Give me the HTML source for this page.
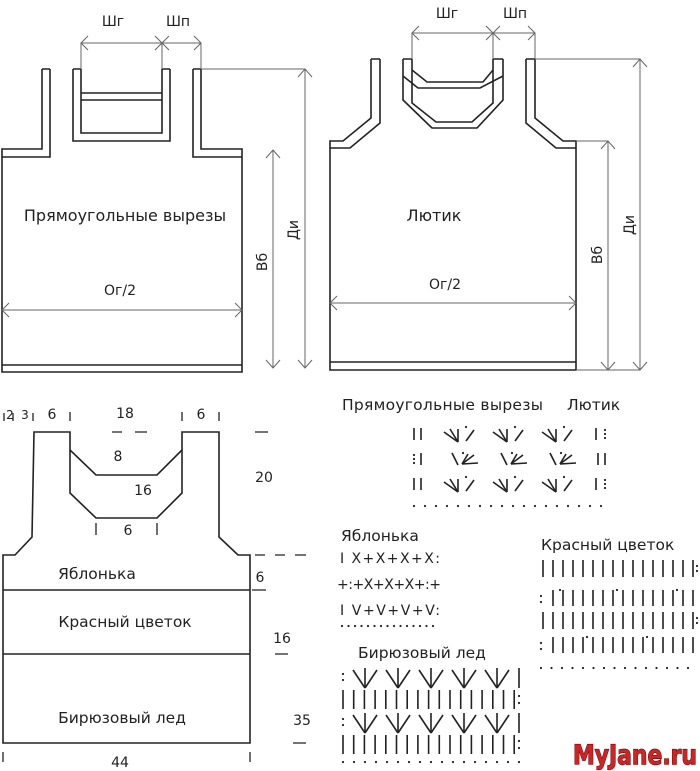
<!DOCTYPE html>
<html><head><meta charset="utf-8"><style>
html,body{margin:0;padding:0;background:#fff;}
svg{display:block;}
text{font-family:"DejaVu Sans","Liberation Sans",sans-serif;fill:#222;}
</style></head><body>
<svg id="s" width="700" height="771" viewBox="0 0 700 771" xmlns="http://www.w3.org/2000/svg">
<g fill="none" stroke="#222" stroke-width="1.6">
<path d="M42,69 H50 M73,69 H81 M162,69 H170 M193,69 H201"/>
<path d="M42,69 V149 H2 V372 H242 V149 H201 V69"/>
<path d="M50,69 V157 H2 M193,69 V157 H242"/>
<path d="M73,69 V141 H170 V69 M81,69 V133 H162 V69"/>
<path d="M81,93 H162 M81,100 H162"/>
<path d="M2,365 H242"/>
<path d="M371,59 H380 M403,59 H412 M493,59 H503 M526,59 H535"/>
<path d="M371,59 V118 L343,141 H330 V370 H576 V141 H563 L535,118 V59"/>
<path d="M380,59 V123 L350,148 H330 M526,59 V123 L556,148 H576"/>
<path d="M403,59 V100 L432,128 H477 L503,100 V59"/>
<path d="M412,59 V103 L436,122 H472 L493,103 V59"/>
<path d="M412,70 L427,82 H483 L493,70"/>
<path d="M403,76 L418,88 H480 L503,76"/>
<path d="M330,362 H576"/>
<path d="M3,555 H15 L32,537 L34,432 H70 V450 L96,475 H157 L182,450 V432 H219 V537 L238,555 H250 V743 H3 Z"/>
<path d="M70,450 V493 L96,518 H157 L182,493 V450"/>
<path d="M3,590 H250 M3,654 H250"/>
</g>
<g fill="none" stroke="#666" stroke-width="1">
<path d="M81,43 H201 M81,43 V69 M162,43 V69 M201,43 V69"/>
<path d="M88,36 L81,43 L88,50 M155,36 L169,50 M169,36 L155,50 M194,36 L201,43 L194,50"/>
<path d="M201,69 H305 M305,69 V368 M298,77 L305,69 L312,77 M298,360 L305,368 L312,360"/>
<path d="M273,150 V368 M266,158 L273,150 L280,158 M266,360 L273,368 L280,360"/>
<path d="M2,310 H242 M9,303 L2,310 L9,317 M235,303 L242,310 L235,317"/>
<path d="M412,33 H535 M412,33 V59 M493,33 V59 M535,33 V59"/>
<path d="M419,26 L412,33 L419,40 M486,26 L500,40 M500,26 L486,40 M528,26 L535,33 L528,40"/>
<path d="M535,59 H640 M640,59 V370 M633,67 L640,59 L647,67 M633,362 L640,370 L647,362"/>
<path d="M576,141 H608 M608,141 V370 M601,149 L608,141 L615,149 M601,362 L608,370 L615,362 M576,370 H640"/>
<path d="M330,303 H576 M337,296 L330,303 L337,310 M569,296 L576,303 L569,310"/>
</g>
<g font-size="14" text-anchor="middle">
<text x="113" y="26">Шг</text><text x="178" y="26">Шп</text>
<text x="125" y="221" font-size="16">Прямоугольные вырезы</text>
<text x="120" y="295">Ог/2</text>
<text transform="translate(267,262) rotate(-90)">Вб</text>
<text transform="translate(298,230) rotate(-90)">Ди</text>
<text x="447" y="18">Шг</text><text x="515" y="18">Шп</text>
<text x="434" y="221" font-size="16">Лютик</text>
<text x="445" y="289">Ог/2</text>
<text transform="translate(602,255) rotate(-90)">Вб</text>
<text transform="translate(634,225) rotate(-90)">Ди</text>
<text x="10" y="419" font-size="12">2</text><text x="25" y="419" font-size="12">3</text>
<text x="52" y="419">6</text><text x="125" y="418">18</text><text x="201" y="419">6</text>
<text x="118" y="461">8</text><text x="143" y="495">16</text><text x="128" y="535">6</text>
<text x="264" y="482">20</text><text x="260" y="582">6</text><text x="282" y="643">16</text>
<text x="302" y="725">35</text><text x="120" y="767">44</text>
<text x="97" y="579" font-size="15.5">Яблонька</text>
<text x="125" y="627" font-size="15.5">Красный цветок</text>
<text x="122" y="723" font-size="15.5">Бирюзовый лед</text>
</g>
<g stroke="#222" stroke-width="1.3">
<path d="M4,413 V421 M13,413 V421 M33,413 V421 M70,412 V421 M182,412 V421 M219,412 V421"/>
<path d="M112,432 H122 M135,432 H147 M255,432 H268"/>
<path d="M255,555 H265 M275,555 H285 M295,555 H306 M252,590 H266 M275,654 H288 M293,743 H306"/>
<path d="M96,523 V535 M157,523 V535 M3,752 V762 M250,752 V762"/>
</g>
<g font-size="15.5" text-anchor="start">
<text x="342" y="410" textLength="201">Прямоугольные вырезы</text>
<text x="567" y="410">Лютик</text>
<text x="341" y="541">Яблонька</text>
<text x="358" y="658">Бирюзовый лед</text>
<text x="541" y="550">Красный цветок</text>
</g>
<g font-size="14" font-family="Liberation Sans,sans-serif">
<text x="340" y="563" textLength="100">I X+X+X+X:</text>
<text x="337" y="589" textLength="104">+:+X+X+X+:+</text>
<text x="340" y="615" textLength="100">I V+V+V+V:</text>
</g>
<g id="marks" stroke="#222" stroke-width="1.6" fill="#222"></g>
<text x="635" y="764" text-anchor="middle" font-size="27" font-weight="bold" font-family="Liberation Sans,sans-serif" textLength="124" lengthAdjust="spacingAndGlyphs" style="fill:#c62828;stroke:#7a0000;stroke-width:1.2;paint-order:stroke">MyJane.ru</text>
</svg>
<script>
var g=document.getElementById('marks'),h='';
function L(a,b,c,d){h+='<line x1="'+a+'" y1="'+b+'" x2="'+c+'" y2="'+d+'"/>';}
function D(x,y){h+='<circle cx="'+x+'" cy="'+y+'" r="1.1" stroke="none"/>';}
function bar(x,y,hh){L(x,y,x,y+hh);}
var rows=[428,453,478];
rows.forEach(function(y,i){
 if(i!=1){bar(414,y,12);bar(421,y,12);bar(596,y,12);D(605,y+2);D(605,y+6);D(605,y+10);}
 else{D(414,y+2);D(414,y+6);D(414,y+10);bar(421,y,12);bar(598,y,12);bar(605,y,12);}
 [458,507,556].forEach(function(cx){
  if(i!=1){L(cx,y+14,cx-14,y+4);L(cx,y+14,cx-8,y+1);L(cx,y+14,cx,y+1);L(cx+8,y+13,cx+16,y+2);D(cx+8,y-1);}
  else{L(cx,y+12,cx-6,y);L(cx+4,y+11,cx+16,y+2);L(cx+4,y+11,cx+20,y+10);L(cx+4,y+11,cx+10,y+1);D(cx+5,y);}
 });
});
for(var x=414;x<=605;x+=11)D(x,506);
for(var x=342;x<=438;x+=6.5)D(x,626);
[560,612].forEach(function(y){for(var x=543;x<=693;x+=10)bar(x,y,17);D(697,y+6);D(697,y+11);});
[590,637].forEach(function(y,i){D(541,y+6);D(541,y+12);for(var k=0;k<15;k++){var x=553+k*10;bar(x,y,16);}
 (i==0?[560,617,677]:[587,647]).forEach(function(x){D(x,y);});});
for(var x=541;x<=697;x+=10.5)D(x,668);
[668,713].forEach(function(y){D(343,y+6);D(343,y+12);bar(519,y,20);
 [365,398,431,464,497].forEach(function(cx){L(cx-12,y+2,cx,y+20);L(cx+12,y+2,cx,y+20);L(cx,y,cx,y+20);});});
[690,735].forEach(function(y){for(var k=0;k<17;k++)bar(343+k*10.7,y,19);D(519,y+6);D(519,y+13);});
for(var x=343;x<=519;x+=11)D(x,762);
g.innerHTML=h;
</script>
</body></html>
